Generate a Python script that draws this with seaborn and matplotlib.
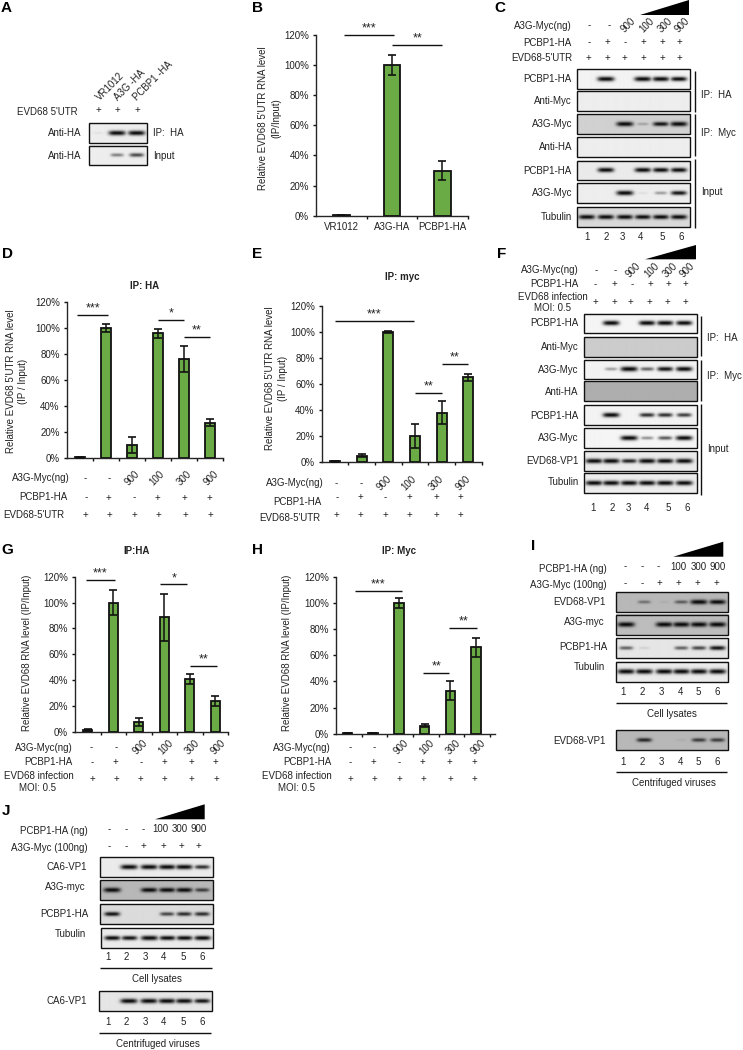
# plot.py - immunoprecipitation figure: RIP-qPCR bars and western blots
import numpy as np
import pandas as pd
import seaborn as sns
import matplotlib.pyplot as plt
from matplotlib.patches import Polygon, Rectangle

# bar charts: values and error bars (%)
B_NAMES = ['VR1012', 'A3G-HA', 'PCBP1-HA']
B_VALUES = [0.3, 100, 30]
B_ERRORS = [0, 6.5, 6.5]
D_VALUES = [0.8, 100, 10, 96, 76, 27.5]
D_ERRORS = [0.3, 3, 6, 3.5, 10, 3]
E_VALUES = [0.5, 5, 100, 20, 38, 65]
E_ERRORS = [0.3, 1, 1, 9, 9, 3]
G_VALUES = [1.5, 100, 8, 88.5, 41, 24]
G_ERRORS = [0.8, 9.5, 3, 18.5, 4, 4]
H_VALUES = [0.5, 0.5, 100, 6, 33, 66]
H_ERRORS = [0.2, 0.2, 4, 1.2, 7.5, 7.5]
Y_TICKS = [0, 20, 40, 60, 80, 100, 120]

# treatment rows under the charts and above the blots
A3G_AMOUNTS = ['-', '-', '900', '100', '300', '900']
PCBP1_ROW = ['-', '+', '-', '+', '+', '+']
ALL_PLUS = ['+', '+', '+', '+', '+', '+']
PCBP1_AMOUNTS = ['-', '-', '-', '100', '300', '900']
A3G_ROW = ['-', '-', '+', '+', '+', '+']
LANE_NUMBERS = ['1', '2', '3', '4', '5', '6']

# blot band strengths per lane
A_IP = [0.04, 1, 1]
A_INPUT = [0, 0.4, 0.6]
C_IP_PCBP1 = [0, 1, 0, 1, 0.95, 0.85]
C_IP_MYC = [0, 0, 0, 0, 0, 0]
C_MYC_A3G = [0, 0, 1, 0.2, 0.8, 1]
C_MYC_HA = [0, 0, 0, 0, 0, 0]
C_IN_PCBP1 = [0, 0.9, 0, 0.9, 0.85, 0.85]
C_IN_A3G = [0, 0, 1, 0.05, 0.3, 0.8]
C_IN_TUB = [0.9, 0.9, 0.9, 0.85, 0.85, 0.9]
F_IP_PCBP1 = [0, 0.9, 0, 0.9, 0.9, 0.85]
F_IP_MYC = [0, 0, 0, 0, 0, 0]
F_MYC_A3G = [0, 0.3, 1, 0.5, 0.8, 0.9]
F_MYC_HA = [0, 0, 0, 0, 0, 0]
F_IN_PCBP1 = [0, 0.95, 0, 0.7, 0.7, 0.65]
F_IN_A3G = [0, 0, 1, 0.35, 0.55, 0.95]
F_IN_VP1 = [1, 1, 0.75, 1, 0.95, 1]
F_IN_TUB = [1, 1, 1, 1, 1, 1]
I_VP1 = [0, 0.35, 0.05, 0.45, 1, 0.9]
I_A3G = [1, 0, 1, 1, 1, 1]
I_PCBP1 = [0.5, 0.08, 0, 0.5, 0.6, 0.8]
I_TUB = [1, 1, 1, 1, 1, 1]
I_VIRUS = [0, 0.7, 0, 0.05, 0.6, 0.6]
J_VP1 = [0, 1, 1, 1, 1, 0.7]
J_A3G = [1, 0, 0.9, 0.9, 0.9, 0.6]
J_PCBP1 = [0.8, 0, 0, 0.6, 0.7, 0.7]
J_TUB = [0.85, 0.8, 1, 0.85, 0.85, 0.9]
J_VIRUS = [0, 1, 1, 1, 0.95, 0.8]

GREEN = '#6aab45'
INK = '#222222'
FONT = 7
W, H = 743, 1050

sns.set_theme(style='ticks')
plt.rcParams['font.family'] = ['Liberation Sans', 'DejaVu Sans']
plt.rcParams['axes.linewidth'] = 1.0

fig = plt.figure(figsize=(W / 100, H / 100), dpi=100, facecolor='white')
page = fig.add_axes([0, 0, 1, 1], zorder=5)
page.set_facecolor('none')
page.axis('off')


def reset_page():
    page.set_xlim(0, W)
    page.set_ylim(H, 0)


def label(x, y, text, ha='right', **kw):
    kw.setdefault('fontsize', FONT)
    kw.setdefault('color', INK)
    page.text(x, y, text, ha=ha, va='center', **kw)


def row(xs, y, items, rotate=False):
    for x, item in zip(xs, items):
        rot = 45 if rotate and item not in '+-' else 0
        label(x, y, item, ha='center', rotation=rot, rotation_mode='anchor')


def wedge(x0, x1, top, bottom):
    page.add_patch(Polygon([(x0, bottom), (x1, top), (x1, bottom)], color='black', lw=0))


def rule(x0, y0, x1, y1, lw=1.0):
    page.plot([x0, x1], [y0, y1], color='#111111', lw=lw, solid_capstyle='butt')


def blot(box, lanes, strengths, bg=0.93, band_w=17, band_h=2.4, dy=0):
    """Draw a blot strip as a grey image with one soft band per lane."""
    x0, y0, x1, y1 = box
    xs = np.linspace(x0, x1, int((x1 - x0) * 3))
    ys = np.linspace(y0, y1, int((y1 - y0) * 3))
    gx, gy = np.meshgrid(xs, ys)
    mid = (y0 + y1) / 2 + dy
    dark = np.zeros_like(gx)
    for lane, s in zip(lanes, strengths):
        if s <= 0:
            continue
        hw = band_w / 2 * (0.6 + 0.4 * s)
        across = np.exp(-((gx - lane) / hw) ** 4)
        along = np.exp(-((gy - mid) / (band_h * (0.5 + 0.5 * s))) ** 2)
        dark = np.maximum(dark, min(1, s * 1.2) * across * along)
    img = bg * (1 - dark) + 0.03 * dark
    page.imshow(img, extent=(x0, x1, y1, y0), cmap='gray', vmin=0, vmax=1,
                aspect='auto', interpolation='bilinear', zorder=2)
    page.add_patch(Rectangle((x0, y0), x1 - x0, y1 - y0, fill=False,
                             ec='#111111', lw=1.0, zorder=3))


def bars(values, errors, left, top, right, bottom, xlim, width, names=None, stars=()):
    """Bar panel placed by pixel box; stars holds (from, to, height, text)."""
    ax = fig.add_axes([left / W, 1 - bottom / H, (right - left) / W, (bottom - top) / H])
    frame = pd.DataFrame({'group': list(range(len(values))), 'value': values})
    sns.barplot(data=frame, x='group', y='value', color=GREEN, saturation=1,
                width=width, edgecolor='#111111', linewidth=1.3, ax=ax)
    ax.errorbar(frame['group'], values, yerr=errors, fmt='none', ecolor='#111111',
                elinewidth=1.1, capsize=2.6, capthick=1.2, zorder=4)
    ax.set_xlim(*xlim)
    ax.set_ylim(0, 120)
    ax.set_yticks(Y_TICKS)
    ax.set_yticklabels([f'{t}%' for t in Y_TICKS], fontsize=FONT, color=INK)
    ax.set_xticks([xlim[0] + k for k in range(1, len(values) + 1)])
    ax.set_xticklabels([])
    ax.set_xlabel('')
    ax.set_ylabel('')
    ax.tick_params(axis='both', length=2.5, width=1.0, color='#111111', pad=2.5)
    ax.patch.set_alpha(0)
    ax.spines['top'].set_visible(False)
    ax.spines['right'].set_visible(False)
    for a, b, h, text in stars:
        ax.plot([a, b], [h, h], color='#111111', lw=1.0, clip_on=False, solid_capstyle='butt')
        ax.text((a + b) / 2, h + 0.4, text, ha='center', va='bottom', fontsize=9,
                color=INK, clip_on=False, linespacing=0.8)
    if names:
        for i, name in enumerate(names):
            ax.text(i, -4.5, name, ha='center', va='top', fontsize=FONT, color=INK, clip_on=False)
    return ax


# panel letters
for x, y, letter in [(1, 8, 'A'), (252, 8, 'B'), (494, 8, 'C'), (2, 254, 'D'), (252, 254, 'E'),
                     (497, 254, 'F'), (1, 550, 'G'), (252, 550, 'H'), (531, 546, 'I'), (2, 811, 'J')]:
    label(x, y, letter, ha='left', fontsize=11, fontweight='bold', color='black')

# A
for x, name in [(98, 'VR1012'), (116, 'A3G -HA'), (135, 'PCBP1 -HA')]:
    page.text(x, 99, name, rotation=45, rotation_mode='anchor', ha='left', va='center',
              fontsize=FONT, color=INK)
label(78, 112, "EVD68 5'UTR")
row([98, 117, 137], 110, ['+', '+', '+'])
A_LANES = [98, 117, 136.5]
blot((89, 122.7, 146.7, 142.7), A_LANES, A_IP, bg=0.93)
blot((89, 145.7, 146.7, 165.3), A_LANES, A_INPUT, bg=0.93)
label(81.5, 133, 'Anti-HA')
label(81.5, 156, 'Anti-HA')
label(153, 133, 'IP:  HA', ha='left')
label(153, 156, 'Input', ha='left')

# B
ax = bars(B_VALUES, B_ERRORS, 316, 35, 467.7, 215.7, (-0.5, 2.5), 0.33, names=B_NAMES,
          stars=[(0.05, 1.05, 120, '***'), (1, 2, 113.5, '**')])
label(263, 118, "Relative EVD68 5'UTR RNA level", ha='center', rotation=90)
label(276, 118, '(IP/Input)', ha='center', rotation=90)

# C
C_LANES = [587, 606, 625, 643, 661, 679]
C_X0, C_X1 = 577.3, 690
C_STRIPS = [(69.3, 89.3, C_IP_PCBP1, 0.95, 'PCBP1-HA'), (91.3, 111.3, C_IP_MYC, 0.93, 'Anti-Myc'),
            (114.3, 134.3, C_MYC_A3G, 0.82, 'A3G-Myc'), (136.7, 156.7, C_MYC_HA, 0.93, 'Anti-HA'),
            (160.7, 180.3, C_IN_PCBP1, 0.92, 'PCBP1-HA'), (183.3, 203.3, C_IN_A3G, 0.93, 'A3G-Myc'),
            (206.7, 226.7, C_IN_TUB, 0.85, 'Tubulin')]
for y0, y1, strengths, bg, name in C_STRIPS:
    blot((C_X0, y0, C_X1, y1), C_LANES, strengths, bg=bg)
    label(572, (y0 + y1) / 2, name)
label(572, 25.7, 'A3G-Myc(ng)')
label(572, 42.7, 'PCBP1-HA')
label(572, 57.7, "EVD68-5'UTR")
row([589, 609, 628, 647, 665, 682], 25.5, A3G_AMOUNTS, rotate=True)
row([589, 607, 625, 643, 662, 679], 42.5, PCBP1_ROW)
row([588, 607, 624, 643, 662, 679], 57.5, ALL_PLUS)
wedge(640, 689, 0, 15)
rule(695.3, 70.7, 695.3, 111.7)
rule(695.3, 114, 695.3, 155.7)
rule(695.3, 159.3, 695.3, 227.7)
label(700.7, 95, 'IP:  HA', ha='left')
label(700.7, 132.7, 'IP:  Myc', ha='left')
label(701, 192, 'Input', ha='left')
row([587, 606, 622, 641, 662, 681], 236.7, LANE_NUMBERS)

# D
D_X = [85, 109.3, 132.3, 156.7, 184.3, 210.7]
ax = bars(D_VALUES, D_ERRORS, 66.7, 302.3, 223, 458.3, (-0.5, 5.5), 0.37,
          stars=[(-0.1, 1.1, 110, '***'), (3, 4, 106.4, '*'), (4, 5, 93, '**')])
label(145, 286, 'IP: HA', ha='center', fontweight='bold')
label(11, 381, "Relative EVD68 5'UTR RNA level", ha='center', rotation=90)
label(23, 381, '(IP / Input)', ha='center', rotation=90)
label(69.3, 478.3, 'A3G-Myc(ng)')
label(67.7, 497.3, 'PCBP1-HA')
label(64, 515, "EVD68-5'UTR")
row(D_X, 478, A3G_AMOUNTS, rotate=True)
row([86, 108.3, 134, 157.7, 184.3, 209.3], 497.5, PCBP1_ROW)
row([85, 109.3, 134, 158.7, 185.3, 210], 515, ALL_PLUS)

# E
ax = bars(E_VALUES, E_ERRORS, 321.7, 306, 481.7, 462, (-0.5, 5.5), 0.37,
          stars=[(0, 2.95, 108.5, '***'), (3, 4, 53, '**'), (4, 5, 75.4, '**')])
label(402.7, 277.3, 'IP: myc', ha='center', fontweight='bold')
label(270, 378, "Relative EVD68 5'UTR RNA level", ha='center', rotation=90)
label(283, 378, '(IP / Input)', ha='center', rotation=90)
label(323.3, 483.3, 'A3G-Myc(ng)')
label(321.7, 501.7, 'PCBP1-HA')
label(320, 518.3, "EVD68-5'UTR")
row([336, 360.7, 384.3, 409.3, 436.7, 463.3], 483, A3G_AMOUNTS, rotate=True)
row([336.7, 360.7, 385, 409, 436, 460], 497.3, PCBP1_ROW)
row([336, 360.7, 385.3, 409.3, 436, 460.7], 514.7, ALL_PLUS)

# F
F_LANES = [594, 611, 629, 647, 665, 684]
F_X0, F_X1 = 584, 696.7
F_STRIPS = [(314, 333.3, F_IP_PCBP1, 0.96, 'PCBP1-HA', 323), (336.7, 356.7, F_IP_MYC, 0.8, 'Anti-Myc', 347),
            (359.7, 379, F_MYC_A3G, 0.95, 'A3G-Myc', 370), (381.3, 401, F_MYC_HA, 0.68, 'Anti-HA', 392),
            (405.3, 425.3, F_IN_PCBP1, 0.95, 'PCBP1-HA', 415.7), (428.3, 448.3, F_IN_A3G, 0.96, 'A3G-Myc', 438),
            (451, 471, F_IN_VP1, 0.92, 'EVD68-VP1', 461), (473.3, 493.3, F_IN_TUB, 0.93, 'Tubulin', 482)]
for y0, y1, strengths, bg, name, ty in F_STRIPS:
    blot((F_X0, y0, F_X1, y1), F_LANES, strengths, bg=bg)
    label(578.7, ty, name)
label(578.7, 270, 'A3G-Myc(ng)')
label(578.7, 284, 'PCBP1-HA')
label(587.7, 296.7, 'EVD68 infection')
label(552, 308, 'MOI: 0.5', ha='center')
row([596, 615, 632.7, 651.7, 670, 687.3], 270, A3G_AMOUNTS, rotate=True)
row([595.3, 614, 631.7, 650, 668.3, 685], 284, PCBP1_ROW)
row([595.3, 614, 630.3, 649, 667.7, 685], 301.7, ALL_PLUS)
wedge(645, 696, 245, 259.3)
rule(701, 315.7, 701, 356)
rule(701, 360, 701, 401)
rule(701, 404, 701, 495)
label(706.7, 338.3, 'IP:  HA', ha='left')
label(706.7, 375.7, 'IP:  Myc', ha='left')
label(707, 449.3, 'Input', ha='left')
row([593, 612, 628, 647, 668, 687], 507.7, LANE_NUMBERS)

# G
ax = bars(G_VALUES, G_ERRORS, 75, 576.7, 228, 732, (-0.5, 5.5), 0.37,
          stars=[(-0.05, 1.05, 117.7, '***'), (2.85, 3.9, 114, '*'), (4, 5.05, 51, '**')])
label(136.7, 550.7, 'IP:HA', ha='center', fontweight='bold')
label(26.7, 653, 'Relative EVD68 RNA level (IP/Input)', ha='center', rotation=90)
label(72.7, 748.3, 'A3G-Myc(ng)')
label(72.7, 762.3, 'PCBP1-HA')
label(73.3, 776, 'EVD68 infection')
label(37.7, 787.7, 'MOI: 0.5', ha='center')
row([91, 116, 140, 165.7, 192.7, 218.3], 747, A3G_AMOUNTS, rotate=True)
row([92.3, 115.7, 141.3, 164, 191.3, 215.7], 762.3, PCBP1_ROW)
row([92.3, 116, 140.7, 164.3, 191.7, 216], 779, ALL_PLUS)

# H
ax = bars(H_VALUES, H_ERRORS, 336, 576.7, 495, 733.7, (-0.45, 5.74), 0.37,
          stars=[(0.3, 2.1, 108.9, '***'), (2.95, 3.95, 46.6, '**'), (3.95, 5.05, 81, '**')])
label(399, 550.7, 'IP: Myc', ha='center', fontweight='bold')
label(286.7, 653, 'Relative EVD68 RNA level (IP/Input)', ha='center', rotation=90)
label(331, 748.3, 'A3G-Myc(ng)')
label(331, 762.3, 'PCBP1-HA')
label(331.7, 776, 'EVD68 infection')
label(296, 787.7, 'MOI: 0.5', ha='center')
row([350, 374, 400.7, 426.7, 453.3, 478.3], 747, A3G_AMOUNTS, rotate=True)
row([350, 373.3, 399, 422.3, 449.7, 474], 762.3, PCBP1_ROW)
row([350, 374, 399.3, 423.3, 450, 474.7], 779, ALL_PLUS)

# I
I_NUM_X = [623.3, 642.3, 661, 680, 698.7, 717.3]
I_LANES = [626, 644, 664, 681, 698.5, 717]
I_X0, I_X1 = 616, 728.3
I_STRIPS = [(591.7, 611.7, I_VP1, 0.72), (614.7, 635, I_A3G, 0.74), (638.3, 658.3, I_PCBP1, 0.9),
            (662, 682.3, I_TUB, 0.92), (730, 750, I_VIRUS, 0.72)]
for y0, y1, strengths, bg in I_STRIPS:
    blot((I_X0, y0, I_X1, y1), I_LANES, strengths, bg=bg)
label(606.3, 569, 'PCBP1-HA (ng)')
label(606.3, 585, 'A3G-Myc (100ng)')
label(606, 602.3, 'EVD68-VP1')
label(605, 622.3, 'A3G-myc')
label(607, 647.3, 'PCBP1-HA')
label(605, 666.7, 'Tubulin')
label(606, 740.7, 'EVD68-VP1')
row([625, 641.7, 658.3, 678.3, 698.3, 717.3], 566.5, PCBP1_AMOUNTS)
row([625, 641.7, 659.3, 678.3, 697.3, 716.7], 583, A3G_ROW)
wedge(673.3, 723.3, 541.7, 556.7)
row(I_NUM_X, 692.3, LANE_NUMBERS)
rule(616, 703, 727.3, 703)
label(672, 714, 'Cell lysates', ha='center')
row(I_NUM_X, 761.7, LANE_NUMBERS)
rule(615.5, 771.7, 726.7, 771.7)
label(673.7, 783.3, 'Centrifuged viruses', ha='center')

# J
J_NUM_X = [107.7, 126.3, 145, 163.7, 183, 202]
J_LANES = [112, 129, 149, 167, 184, 202]
J_STRIPS = [(100, 856.7, 212.7, 876.7, J_VP1, 0.92), (100, 880.3, 212.7, 900.3, J_A3G, 0.72),
            (100, 904, 212.7, 924, J_PCBP1, 0.86), (100.7, 928.3, 213.3, 948.3, J_TUB, 0.92),
            (99.3, 990.7, 211.7, 1010.7, J_VIRUS, 0.9)]
for x0, y0, x1, y1, strengths, bg in J_STRIPS:
    blot((x0, y0, x1, y1), J_LANES, strengths, bg=bg)
label(87.7, 831.3, 'PCBP1-HA (ng)')
label(87.7, 847.7, 'A3G-Myc (100ng)')
label(86.7, 866.7, 'CA6-VP1')
label(86, 886.7, 'A3G-myc')
label(88.3, 914.3, 'PCBP1-HA')
label(86, 933.7, 'Tubulin')
label(86.7, 1000.7, 'CA6-VP1')
row([109.3, 126, 142.7, 160.7, 180, 199], 829.5, PCBP1_AMOUNTS)
row([109.3, 126, 143.7, 163, 181.7, 198.7], 846, A3G_ROW)
wedge(155, 204.7, 804.3, 819.3)
row(J_NUM_X, 957.3, LANE_NUMBERS)
rule(100, 968.3, 211.7, 968.3)
label(157, 979.3, 'Cell lysates', ha='center')
row(J_NUM_X, 1022.3, LANE_NUMBERS)
rule(99.3, 1032.7, 210.7, 1032.7)
label(158, 1044.3, 'Centrifuged viruses', ha='center')

reset_page()
fig.savefig('out.png', dpi=100, facecolor='white')
